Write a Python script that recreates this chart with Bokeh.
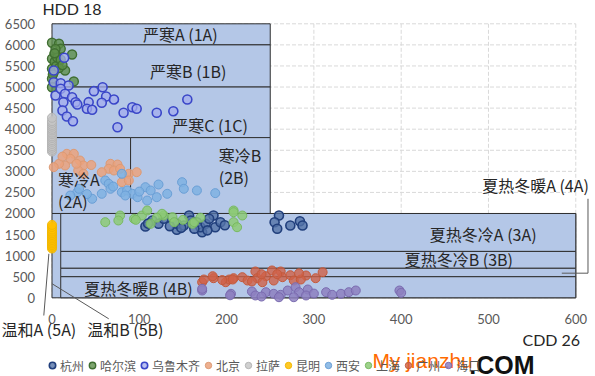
from bokeh.plotting import figure
from bokeh.models import Range1d, Label, Arrow, Legend, LegendItem, FixedTicker
from bokeh.embed import file_html
from bokeh.resources import INLINE

# ---------------- data ----------------
cities = ["杭州", "哈尔滨", "乌鲁木齐", "北京", "拉萨", "昆明", "西安", "上海", "广州", "海口"]

hangzhou_cdd = [107, 115, 122, 128, 143, 143, 151, 157, 159, 166, 172, 170, 176, 185, 187, 193, 180,
                260, 255, 258, 273, 284, 287, 135, 148, 163, 178, 198, 110]
hangzhou_hdd = [1692, 1834, 1755, 1874, 1613, 1755, 1715, 1952, 1834, 1794, 1556, 1675, 1755, 1952, 1675, 1794, 1874,
                1952, 1794, 1637, 1715, 1817, 1715, 1700, 1660, 1640, 1600, 1720, 1760]

harbin_cdd = [0, 8, 10, 3, 23, 0, 8, 0, 15, 0, 25, 0, 3, 5, 2, 6, 4, 8, 1, 10, 3, 12]
harbin_hdd = [6050, 6026, 5907, 5789, 5772, 5670, 5590, 5433, 5393, 5196, 5133, 4996, 5600, 5500, 5350, 5700,
              5900, 5450, 5300, 5650, 5800, 5520]

urumqi_cdd = [14, 2, 2, 10, 19, 4, 10, 15, 23, 27, 29, 13, 12, 17, 24, 48, 58, 62, 57, 71, 42, 40, 46, 75,
              82, 92, 97, 120, 139, 155]
urumqi_hdd = [5694, 5392, 5115, 5091, 5036, 4800, 4958, 4840, 4759, 4641, 4586, 4641, 4444, 4301, 4190, 4902,
              4996, 4776, 4626, 4705, 4641, 4484, 4460, 4047, 4389, 4522, 4484, 4389, 4427, 4705]

beijing_cdd = [17, 25, 21, 15, 8, 2, 32, 36, 30, 36, 67, 75, 65, 71, 78, 88, 97, 80, 88, 57, 45, 28, 12]
beijing_hdd = [3416, 3416, 3298, 3139, 3179, 3099, 3257, 3139, 3020, 2942, 3179, 3162, 3060, 3020, 3060, 2942,
               2980, 2743, 2783, 2980, 3150, 3180, 3350]

lhasa_cdd = [0, 0, 0, 0, 0, 0, 0, 0, 0, 0, 0, 0, 0, 0, 0, 0, 0, 0]
lhasa_hdd = [3470, 3510, 3560, 3600, 3650, 3700, 3740, 3790, 3830, 3880, 3920, 3970, 4010, 4060, 4100, 4150,
             4190, 4270]

kunming_cdd = [0, 0, 0, 0, 0, 0, 0, 0, 0, 0, 0, 0, 0, 0]
kunming_hdd = [1170, 1210, 1250, 1290, 1330, 1370, 1410, 1450, 1490, 1530, 1570, 1620, 1680, 1730]

xian_cdd = [80, 61, 65, 67, 57, 46, 29, 21, 31, 80, 86, 92, 98, 84, 107, 113, 122, 132, 109, 120, 149, 151,
            166, 187, 70, 100, 40]
xian_hdd = [2942, 2783, 2704, 2586, 2467, 2349, 2505, 2427, 2586, 2505, 2546, 2467, 2387, 2427, 2624, 2546,
            2688, 2467, 2308, 2387, 2743, 2586, 2546, 2483, 2640, 2520, 2460]

shanghai_cdd = [61, 78, 76, 94, 103, 109, 113, 128, 138, 140, 161, 163, 208, 218, 208, 212, 96, 126, 208,
                120, 150, 170]
shanghai_hdd = [1794, 1952, 1834, 1874, 1952, 2071, 1755, 1952, 1913, 1794, 1755, 1794, 2071, 1952, 1794, 1675,
                1850, 1993, 2031, 1900, 1850, 1900]

guangzhou_cdd = [172, 185, 199, 203, 208, 218, 224, 233, 235, 245, 252, 254, 262, 264, 273, 277, 291, 302,
                 310, 229, 241, 285, 174, 184, 207, 195, 240, 258, 283]
guangzhou_hdd = [370, 465, 370, 434, 465, 489, 410, 624, 465, 512, 648, 410, 624, 489, 536, 410, 529, 465,
                 607, 387, 370, 434, 434, 512, 434, 420, 560, 560, 580]

haikou_cdd = [172, 205, 229, 233, 245, 254, 262, 270, 279, 283, 293, 291, 314, 321, 331, 340, 348, 398, 400,
              277, 260, 172, 204, 240, 300]
haikou_hdd = [173, 95, 150, 55, 133, 95, 71, 173, 251, 133, 197, 55, 133, 71, 95, 133, 173, 173, 118,
              14, 14, 213, 60, 30, 100]

series_cdd = [hangzhou_cdd, harbin_cdd, urumqi_cdd, beijing_cdd, lhasa_cdd, kunming_cdd, xian_cdd,
              shanghai_cdd, guangzhou_cdd, haikou_cdd]
series_hdd = [hangzhou_hdd, harbin_hdd, urumqi_hdd, beijing_hdd, lhasa_hdd, kunming_hdd, xian_hdd,
              shanghai_hdd, guangzhou_hdd, haikou_hdd]

# climate zone boxes (CDD26 from-to, HDD18 from-to)
zone_left = [0, 0, 0, 0, 90, 0, 10, 10, 10, 10]
zone_right = [250, 250, 250, 90, 250, 600, 600, 600, 600, 600]
zone_bottom = [6000, 5000, 3800, 2000, 2000, 0, 1100, 700, 500, 0]
zone_top = [6500, 6000, 5000, 3800, 3800, 2000, 2000, 1100, 700, 500]

x_ticks = [0, 100, 200, 300, 400, 500, 600]
y_ticks = [0, 500, 1000, 1500, 2000, 2500, 3000, 3500, 4000, 4500, 5000, 5500, 6000, 6500]
x_max = 600
y_max = 6500

# ---------------- styles ----------------
fills = ["#5473a8", "#5c8f4a", "#a3acee", "#eba27c", "#c4c4c4", "#ffc000", "#7fb1e2", "#8dca77", "#cf6149", "#8d80bf"]
lines = ["#213f7c", "#3f6e31", "#3a46c8", "#dc9a74", "#b4b4b4", "#f2b800", "#6a9fd6", "#78b960", "#c45a3c", "#7a6bb0"]
alphas = [0.8, 0.8, 0.75, 0.85, 0.8, 0.85, 0.85, 0.85, 0.8, 0.85]
lws = [1.6, 1.4, 1.6, 1.0, 1.0, 1.0, 1.0, 1.0, 1.0, 1.0]

CJK = "Noto Sans CJK SC"

# frame covers the whole canvas; axes are pinned at 0 with fixed_location
p = figure(width=595, height=376, output_backend="svg", toolbar_location=None,
           x_range=Range1d(-59.0, 622.6), y_range=Range1d(-1867, 7053), min_border=0)
p.outline_line_color = None
p.background_fill_color = "white"
p.border_fill_color = "white"
p.xgrid.visible = False
p.ygrid.visible = False

p.xaxis.ticker = FixedTicker(ticks=x_ticks)
p.yaxis.ticker = FixedTicker(ticks=y_ticks)
p.xaxis.fixed_location = 0
p.yaxis.fixed_location = 0
for ax in (p.xaxis, p.yaxis):
    ax.axis_line_color = None
    ax.major_tick_line_color = None
    ax.minor_tick_line_color = None
    ax.major_label_text_color = "#595959"
    ax.major_label_text_font = "Lato"
    ax.major_label_text_font_size = "13px"
p.xaxis.major_label_standoff = 10
p.yaxis.major_label_standoff = 11

# dashed gridlines over the plotting area only
p.segment(x0=x_ticks, y0=[0] * len(x_ticks), x1=x_ticks, y1=[y_max] * len(x_ticks),
          line_color="#d9d9d9", line_dash="4 2", line_width=1)
p.segment(x0=[0] * len(y_ticks), y0=y_ticks, x1=[x_max] * len(y_ticks), y1=y_ticks,
          line_color="#d9d9d9", line_dash="4 2", line_width=1)

p.quad(left=zone_left, right=zone_right, bottom=zone_bottom, top=zone_top,
       fill_color="#b4c7e7", line_color="#303030", line_width=1)

items = []
for i, name in enumerate(cities):
    r = p.scatter(series_cdd[i], series_hdd[i], marker="circle", size=9,
                  fill_color=fills[i], fill_alpha=alphas[i], line_color=lines[i], line_width=lws[i])
    items.append(LegendItem(label=name, renderers=[r]))

legend = Legend(items=items, orientation="horizontal", location=(44, 1),
                background_fill_alpha=0, border_line_color=None,
                label_text_font=CJK, label_text_font_size="12px", label_text_color="#595959",
                glyph_width=16, glyph_height=20, label_standoff=0, spacing=0,
                padding=0, margin=0, label_height=20)
p.add_layout(legend, "center")

def lab(x, y, text, align="center", size="16px", color="#262626", font=CJK, style="normal",
        baseline="middle"):
    p.add_layout(Label(x=x, y=y, text=text, text_align=align, text_baseline=baseline,
                       text_font=font, text_font_size=size, text_color=color, text_font_style=style))

lab(147, 6270, "严寒A (1A)")
lab(156, 5369, "严寒B (1B)")
lab(181, 4088, "严寒C (1C)")
lab(191, 3376, "寒冷B", align="left")
lab(191, 2854, "(2B)", align="left")
lab(7, 2830, "寒冷A", align="left")
lab(7, 2285, "(2A)", align="left")
lab(494, 1525, "夏热冬冷A (3A)")
lab(466, 932, "夏热冬冷B (3B)")
lab(99, 244, "夏热冬暖B (4B)")
lab(615, 2665, "夏热冬暖A (4A)", align="right")
lab(-15, -730, "温和A (5A)")
lab(84, -730, "温和B (5B)")
lab(-11, 6864, "HDD 18", align="left", font="Lato", size="16px")
lab(605, -990, "CDD 26", align="right", font="Lato", size="16px")
lab(367, -1480, "My jianzhu", align="left", font="Liberation Sans", size="21px", color="#ff6a00",
    baseline="alphabetic")
lab(478, -1591, ".COM", align="left", font="Liberation Sans", size="25px", color="#111111", style="bold",
    baseline="alphabetic")

def seg(x0, y0, x1, y1):
    p.add_layout(Arrow(end=None, x_start=x0, y_start=y0, x_end=x1, y_end=y1,
                       line_color="#595959", line_width=1))

seg(-3.6, 1044, -9.4, -420)
seg(0.2, 332, 65, -498)
seg(584, 584, 614, 584)
seg(614, 584, 614, 2349)

open("out.html", "w").write(file_html(p, INLINE))
